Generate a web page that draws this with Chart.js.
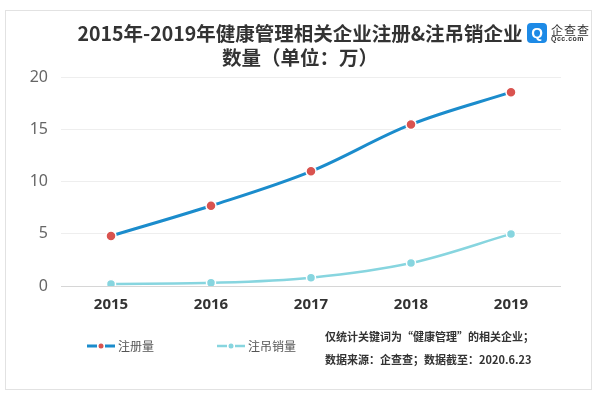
<!DOCTYPE html>
<html>
<head>
<meta charset="utf-8">
<script src="https://cdn.jsdelivr.net/npm/chart.js@4/dist/chart.umd.min.js"></script>
<style>
  body { margin: 0; background: #fff; font-family: "Noto Sans CJK SC", "Noto Sans", sans-serif; }
  #wrap { position: relative; width: 600px; height: 394px; overflow: hidden; }
  #frame { position: absolute; left: 5px; top: 10px; width: 587px; height: 380px; border: 1px solid #e2e2e2; box-sizing: border-box; }
  #myChart { position: absolute; left: 0; top: 0; }
  .logo { position: absolute; left: 527px; top: 23px; display: flex; align-items: center; }
  .logo .icon { width: 20px; height: 20px; border-radius: 4px; background: #1d8ae6; color: #fff; font: bold 15px Arial, sans-serif; text-align: center; line-height: 20px; }
  .logo .txt { margin-left: 4px; line-height: 11px; }
  .logo .cn { font-size: 12px; color: #333; letter-spacing: 1px; }
  .logo .en { font: bold 7px Arial, sans-serif; color: #333; letter-spacing: 0.5px; }
  #legend { position: absolute; left: 87px; top: 337px; display: flex; font-size: 12px; color: #555; }
  #legend .item { display: flex; align-items: center; margin-right: 63px; }
  #legend canvas { margin-right: 3px; }
  #notes { position: absolute; left: 325px; top: 325px; font-size: 11px; font-weight: bold; color: #333; line-height: 23px; }
</style>
</head>
<body>
<div id="wrap">
  <div id="frame"></div>
  <canvas id="myChart" width="600" height="394"></canvas>
  <div class="logo"><div class="icon">Q</div><div class="txt"><div class="cn">企查查</div><div class="en">Qcc.com</div></div></div>
  <div id="legend"></div>
  <div id="notes">仅统计关键词为“健康管理”的相关企业；<br>数据来源：企查查；数据截至：2020.6.23</div>
</div>
<script>
//Datos de la grafica
const years = ['2015', '2016', '2017', '2018', '2019']
const registered = [4.8, 7.7, 11.0, 15.5, 18.6]
const cancelled = [0.2, 0.3, 0.8, 2.2, 5.0]
const yTicks = [0, 5, 10, 15, 20]
const titleLines = ['2015年-2019年健康管理相关企业注册&注吊销企业', '数量（单位：万）']

const blue = '#1b8ccc'
const red = '#d9534f'
const cyan = '#87d5df'

const ctx = document.getElementById('myChart').getContext('2d')
const myChart = new Chart(ctx, {
  type: 'line',
  data: {
    labels: years,
    datasets: [{
      label: '注册量',
      data: registered,
      borderColor: blue,
      borderWidth: 3,
      pointBackgroundColor: red,
      pointBorderColor: '#fff',
      pointBorderWidth: 1.5,
      pointRadius: 5,
      tension: 0.35
    }, {
      label: '注吊销量',
      data: cancelled,
      borderColor: cyan,
      borderWidth: 2.5,
      pointBackgroundColor: cyan,
      pointBorderColor: '#fff',
      pointBorderWidth: 1.5,
      pointRadius: 4.5,
      tension: 0.35
    }]
  },
  options: {
    responsive: false,
    animation: false,
    layout: { padding: { left: 0, right: 0, top: 0, bottom: 78 } },
    plugins: {
      legend: { display: false },
      tooltip: { enabled: false },
      title: {
        display: true,
        text: titleLines,
        color: '#333',
        font: { size: 19.5, weight: 'bold', family: '"Noto Sans CJK SC", sans-serif', lineHeight: 1.22 },
        padding: { top: 22, bottom: 8 }
      }
    },
    scales: {
      x: {
        offset: true,
        grid: { display: false },
        border: { display: false },
        ticks: { color: '#333', font: { size: 15, weight: 'bold', family: '"Noto Sans", sans-serif' }, padding: 2 }
      },
      y: {
        min: 0,
        max: 20,
        afterBuildTicks: axis => { axis.ticks = yTicks.map(v => ({ value: v })) },
        afterFit: axis => { axis.width = 61 },
        grid: { color: ctx => ctx.tick.value === 0 ? '#d6d6d6' : '#eeeeee', drawTicks: false },
        border: { display: false },
        ticks: { color: '#666', font: { size: 16, family: '"Noto Sans", sans-serif' }, padding: 13 }
      },
      //eje vacio a la derecha solo para dejar margen y centrar el titulo
      yRight: {
        position: 'right',
        min: 0,
        max: 20,
        afterFit: axis => { axis.width = 39 },
        grid: { display: false },
        border: { display: false },
        ticks: { display: false }
      }
    }
  }
})

//Leyenda hecha a mano con los colores de cada serie
const legend = document.getElementById('legend')
myChart.data.datasets.forEach(ds => {
  const item = document.createElement('div')
  item.className = 'item'
  const c = document.createElement('canvas')
  c.width = 28; c.height = 10
  const g = c.getContext('2d')
  g.strokeStyle = ds.borderColor
  g.lineWidth = ds.borderWidth
  g.beginPath(); g.moveTo(0, 5); g.lineTo(10, 5); g.moveTo(18, 5); g.lineTo(28, 5); g.stroke()
  g.fillStyle = ds.pointBackgroundColor
  g.beginPath(); g.arc(14, 5, 2.5, 0, Math.PI * 2); g.fill()
  item.appendChild(c)
  const span = document.createElement('span')
  span.textContent = ds.label
  item.appendChild(span)
  legend.appendChild(item)
})
</script>
</body>
</html>
